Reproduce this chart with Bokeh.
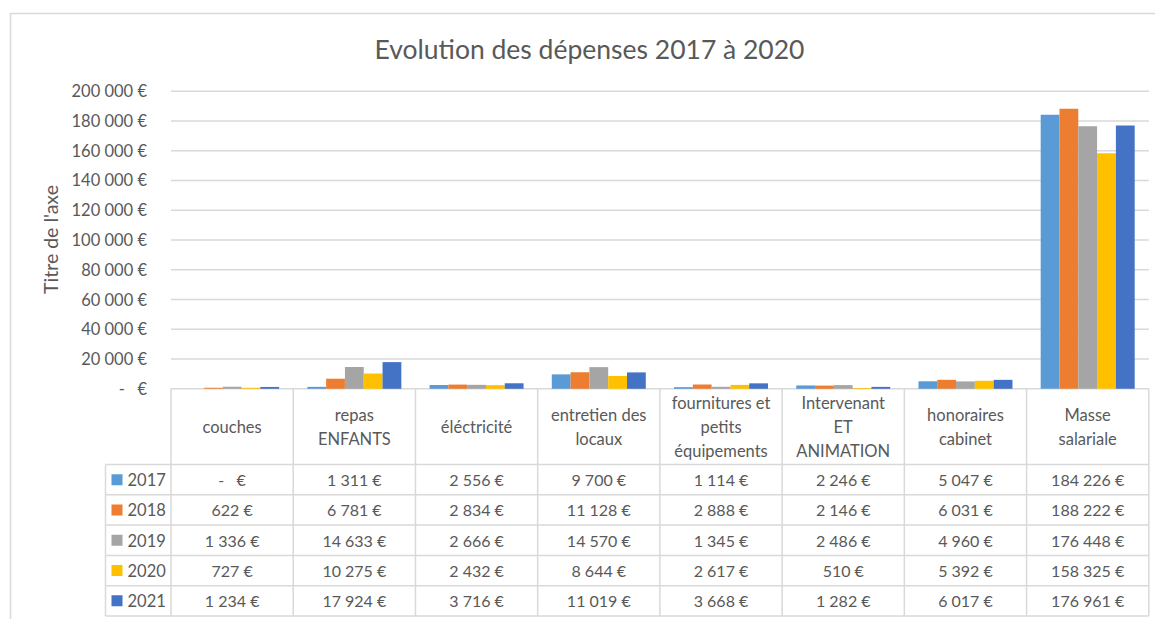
import math
from bokeh.plotting import figure
from bokeh.models import FixedTicker, Range1d
from bokeh.core.properties import value
from bokeh.embed import file_html
from bokeh.resources import INLINE

# ---------------- data ----------------
categories = ["couches", "repas\nENFANTS", "éléctricité", "entretien des\nlocaux",
              "fournitures et\npetits\néquipements", "Intervenant\nET\nANIMATION",
              "honoraires\ncabinet", "Masse\nsalariale"]
years = ["2017", "2018", "2019", "2020", "2021"]
v2017 = [0, 1311, 2556, 9700, 1114, 2246, 5047, 184226]
v2018 = [622, 6781, 2834, 11128, 2888, 2146, 6031, 188222]
v2019 = [1336, 14633, 2666, 14570, 1345, 2486, 4960, 176448]
v2020 = [727, 10275, 2432, 8644, 2617, 510, 5392, 158325]
v2021 = [1234, 17924, 3716, 11019, 3668, 1282, 6017, 176961]
y_ticks = [0, 20000, 40000, 60000, 80000, 100000, 120000, 140000, 160000, 180000, 200000]
title_text = "Evolution des dépenses 2017 à 2020"
axis_title = "Titre de l'axe"

series = [v2017, v2018, v2019, v2020, v2021]
colors = ["#5B9BD5", "#ED7D31", "#A5A5A5", "#FFC000", "#4472C4"]

NB = "\u00a0"


def euro(v):
    if v == 0:
        return "-" + NB * 3 + "€"
    return f"{v:,}".replace(",", NB) + NB + "€"


# ---------------- geometry (page pixels -> data) ----------------
W, H = 1155, 619
OX, OY = 0, 0          # page position of the figure
X0, X8 = 170.5, 1148.3
CW = (X8 - X0) / len(categories)
Y0, YTOP = 388.3, 90.7
YS = 200000 / (Y0 - YTOP)


def dx(px):
    return (px - X0) / CW


def dy(py):
    return (Y0 - py) * YS


FONT = value("Lato")
TXT = "#595959"
LINE = "#d9d9d9"

p = figure(width=W, height=H, output_backend="svg", toolbar_location=None,
           x_range=Range1d(dx(OX), dx(OX + W)), y_range=Range1d(dy(OY + H), dy(OY)),
           x_axis_type=None, min_border=0, outline_line_color=None,
           background_fill_color="white", border_fill_color="white")
p.xgrid.visible = False
p.ygrid.visible = False

ax = p.yaxis[0]
ax.fixed_location = 0
ax.ticker = FixedTicker(ticks=y_ticks)
ax.major_label_overrides = {t: euro(t) for t in y_ticks}
ax.axis_line_color = None
ax.major_tick_line_color = None
ax.minor_tick_line_color = None
ax.major_label_standoff = 18
ax.major_label_text_font = "Lato"
ax.major_label_text_font_size = "16.5px"
ax.major_label_text_color = TXT

# outer chart border
p.line(x=[dx(10), dx(10), dx(1170)], y=[dy(640), dy(13), dy(13)], line_color=LINE, line_width=1.5)

# gridlines
n = len(categories)
p.segment(x0=[0] * len(y_ticks), x1=[n] * len(y_ticks), y0=y_ticks, y1=y_ticks,
          line_color=LINE, line_width=1.5)

# bars
BW = 18.8 / CW
for j, vals in enumerate(series):
    xs = [i + 0.5 + (j - 2) * BW for i in range(n)]
    p.vbar(x=xs, top=vals, bottom=0, width=BW, fill_color=colors[j], line_color=None)

# data table
HB = 464.0
RH = 30.3
row_lines = [HB + k * RH for k in range(len(years) + 1)]
p.segment(x0=list(range(n + 1)), x1=list(range(n + 1)),
          y0=[0] * (n + 1), y1=[dy(row_lines[-1])] * (n + 1), line_color=LINE, line_width=1.5)
p.segment(x0=[dx(105)], x1=[dx(105)], y0=[dy(HB)], y1=[dy(row_lines[-1])], line_color=LINE, line_width=1.5)
p.segment(x0=[dx(105)] * len(row_lines), x1=[n] * len(row_lines),
          y0=[dy(r) for r in row_lines], y1=[dy(r) for r in row_lines], line_color=LINE, line_width=1.5)

# header text
p.text(x=[i + 0.5 for i in range(n)], y=[dy((Y0 + HB) / 2)] * n, text=categories,
       text_align="center", text_baseline="middle", text_font=FONT, text_font_size="16.5px",
       text_color=TXT, text_line_height=1.2)

# values and legend
for j, vals in enumerate(series):
    yc = dy(HB + RH * (j + 0.5))
    p.text(x=[i + 0.5 for i in range(n)], y=[yc] * n, text=[euro(v) for v in vals],
           text_align="center", text_baseline="middle", text_font=FONT, text_font_size="16px",
           text_color=TXT)
    p.rect(x=[dx(116.5)], y=[yc], width=11, height=11, width_units="screen", height_units="screen",
           fill_color=colors[j], line_color=None)
    p.text(x=[dx(127)], y=[yc], text=[years[j]], text_align="left", text_baseline="middle",
           text_font=FONT, text_font_size="16.5px", text_color=TXT)

# axis title
p.text(x=[dx(50)], y=[dy(239)], text=[axis_title], angle=math.pi / 2, text_align="center",
       text_baseline="middle", text_font=FONT, text_font_size="19.5px", text_color=TXT)

# title
p.text(x=[dx(589)], y=[dy(48)], text=[title_text], text_align="center", text_baseline="middle",
       text_font=FONT, text_font_size="26.5px", text_color=TXT)

open("out.html", "w").write(file_html(p, INLINE))
